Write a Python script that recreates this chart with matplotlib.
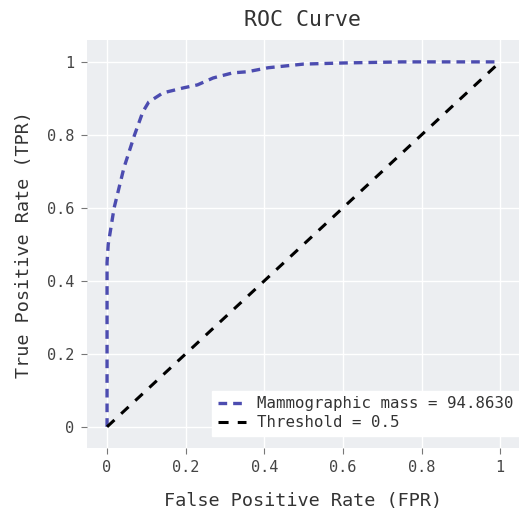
import matplotlib
matplotlib.use("Agg")
import matplotlib.pyplot as plt

# ROC curve
fpr = [0.0, 0.0, 0.003, 0.018, 0.043, 0.07, 0.091, 0.106, 0.142, 0.195,
       0.23, 0.27, 0.32, 0.357, 0.41, 0.5, 0.6, 0.75, 1.0]
tpr = [0.0, 0.45, 0.5, 0.6, 0.71, 0.8, 0.863, 0.89, 0.915, 0.929,
       0.937, 0.956, 0.97, 0.973, 0.984, 0.994, 0.997, 1.0, 1.0]
thr_x = [0.0, 1.0]
thr_y = [0.0, 1.0]

xticks = [0, 0.2, 0.4, 0.6, 0.8, 1]
xticklabels = ["0", "0.2", "0.4", "0.6", "0.8", "1"]

plt.rcParams["font.family"] = ["DejaVu Sans Mono"]

fig = plt.figure(figsize=(5.19, 5.16), dpi=100)
ax = fig.add_axes([87 / 519, (516 - 448) / 516, 432 / 519, 408 / 516])
ax.set_facecolor("#eceef1")
for s in ax.spines.values():
    s.set_visible(False)

ax.plot(fpr, tpr, color="#4c4cb0", linestyle=(0, (2.6, 1.8)), linewidth=2.4,
        label="Mammographic mass = 94.8630")
ax.plot(thr_x, thr_y, color="black", linestyle=(0, (3.3, 3.0)), linewidth=2.2,
        label="Threshold = 0.5")

ax.set_xlim(-0.051, 1.048)
ax.set_ylim(-0.058, 1.06)
ax.set_xticks(xticks)
ax.set_xticklabels(xticklabels)
ax.set_yticks(xticks)
ax.set_yticklabels(xticklabels)
ax.grid(True, color="white", linewidth=1)
ax.set_axisbelow(True)
ax.tick_params(colors="#777777", labelcolor="#444444", labelsize=11,
               length=4, width=0.8, pad=5)

ax.set_title("ROC Curve", fontsize=15.5, color="#333333", pad=10)
ax.set_xlabel("False Positive Rate (FPR)", fontsize=13.3, color="#333333",
              labelpad=12)
ax.set_ylabel("True Positive Rate (TPR)", fontsize=13.3, color="#333333",
              labelpad=10)

leg = ax.legend(loc="lower right", fontsize=11.3, frameon=True, fancybox=False,
                framealpha=1, edgecolor="white", borderaxespad=0.0,
                bbox_to_anchor=(1.0, 0.03), handlelength=1.8,
                handletextpad=0.7, labelspacing=0.25, borderpad=0.35,
                labelcolor="#333333")
leg.get_frame().set_facecolor("white")

fig.savefig("out.png", dpi=100)
